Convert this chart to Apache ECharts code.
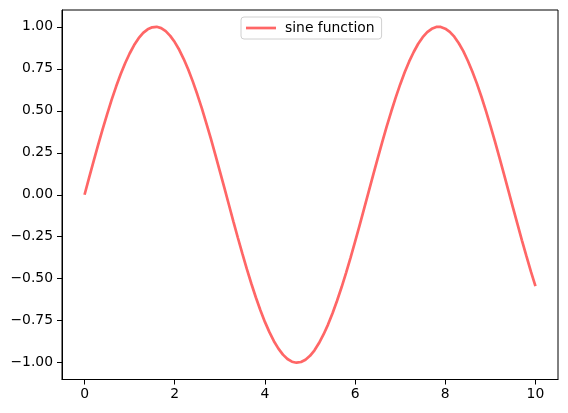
<!DOCTYPE html>
<html>
<head>
<meta charset="utf-8">
<script src="https://cdn.jsdelivr.net/npm/echarts@6/dist/echarts.min.js"></script>
<style>
html,body{margin:0;padding:0;background:#fff;}
#chart{width:568px;height:413px;}
</style>
</head>
<body>
<div id="chart"></div>
<script>
var seriesName = 'sine function';
var xValues = [0,0.1,0.2,0.3,0.4,0.5,0.6,0.7,0.8,0.9,1,1.1,1.2,1.3,1.4,1.5,1.6,1.7,1.8,1.9,2,2.1,2.2,2.3,2.4,2.5,2.6,2.7,2.8,2.9,3,3.1,3.2,3.3,3.4,3.5,3.6,3.7,3.8,3.9,4,4.1,4.2,4.3,4.4,4.5,4.6,4.7,4.8,4.9,5,5.1,5.2,5.3,5.4,5.5,5.6,5.7,5.8,5.9,6,6.1,6.2,6.3,6.4,6.5,6.6,6.7,6.8,6.9,7,7.1,7.2,7.3,7.4,7.5,7.6,7.7,7.8,7.9,8,8.1,8.2,8.3,8.4,8.5,8.6,8.7,8.8,8.9,9,9.1,9.2,9.3,9.4,9.5,9.6,9.7,9.8,9.9,10];
var yValues = [0,0.100,0.199,0.296,0.389,0.479,0.565,0.644,0.717,0.783,0.841,0.891,0.932,0.964,0.985,0.997,1.000,0.992,0.974,0.946,0.909,0.863,0.808,0.746,0.675,0.598,0.516,0.427,0.335,0.239,0.141,0.042,-0.058,-0.158,-0.256,-0.351,-0.443,-0.530,-0.612,-0.688,-0.757,-0.818,-0.872,-0.916,-0.952,-0.978,-0.994,-1.000,-0.996,-0.982,-0.959,-0.926,-0.883,-0.832,-0.773,-0.706,-0.631,-0.551,-0.465,-0.374,-0.279,-0.182,-0.083,0.017,0.117,0.215,0.312,0.405,0.494,0.578,0.657,0.729,0.794,0.850,0.899,0.938,0.968,0.988,0.999,0.999,0.989,0.970,0.941,0.902,0.855,0.798,0.734,0.663,0.585,0.501,0.412,0.319,0.223,0.124,0.025,-0.075,-0.174,-0.271,-0.366,-0.458,-0.544];
var xTicks = [0,2,4,6,8,10];
var yTicks = [-1,-0.75,-0.5,-0.25,0,0.25,0.5,0.75,1];

var points = xValues.map(function(x,i){return [x,yValues[i]];});
var font = 'DejaVu Sans';
var chart = echarts.init(document.getElementById('chart'), null, {renderer:'canvas'});
chart.setOption({
  animation:false,
  backgroundColor:'#fff',
  grid:{left:62,right:10,top:10,bottom:33.5,show:true,borderColor:'#000',borderWidth:1,containLabel:false},
  legend:{
    left:241, top:17,
    padding:[4,7,4,5],
    borderColor:'#d0d0d0', borderWidth:1, borderRadius:3,
    backgroundColor:'rgba(255,255,255,0.8)',
    icon:'rect', itemWidth:30, itemHeight:2.7,
    textStyle:{fontFamily:font,fontSize:13.9,color:'#000',padding:[0,0,0,4]},
    data:[seriesName]
  },
  xAxis:{
    type:'value', min:-0.5, max:10.5,
    axisLine:{show:true,onZero:false,lineStyle:{color:'#000',width:1}},
    axisTick:{show:true,inside:false,length:5,customValues:xTicks,lineStyle:{color:'#000'}},
    axisLabel:{customValues:xTicks,margin:8,fontFamily:font,fontSize:13.9,color:'#000',formatter:function(v){return String(v);}},
    splitLine:{show:false}
  },
  yAxis:{
    type:'value', min:-1.1, max:1.1,
    axisLine:{show:true,onZero:false,lineStyle:{color:'#000',width:1}},
    axisTick:{show:true,inside:false,length:5,customValues:yTicks,lineStyle:{color:'#000'}},
    axisLabel:{customValues:yTicks,margin:9,fontFamily:font,fontSize:13.9,color:'#000',
      formatter:function(v){var s=Math.abs(v).toFixed(2);return (v<0?'\u2212':'')+s;}},
    splitLine:{show:false}
  },
  series:[{
    name:seriesName, type:'line', data:points, showSymbol:false, symbol:'none',
    lineStyle:{color:'#ff6666',width:2.7}, itemStyle:{color:'#ff6666'}
  }]
});
</script>
</body>
</html>
